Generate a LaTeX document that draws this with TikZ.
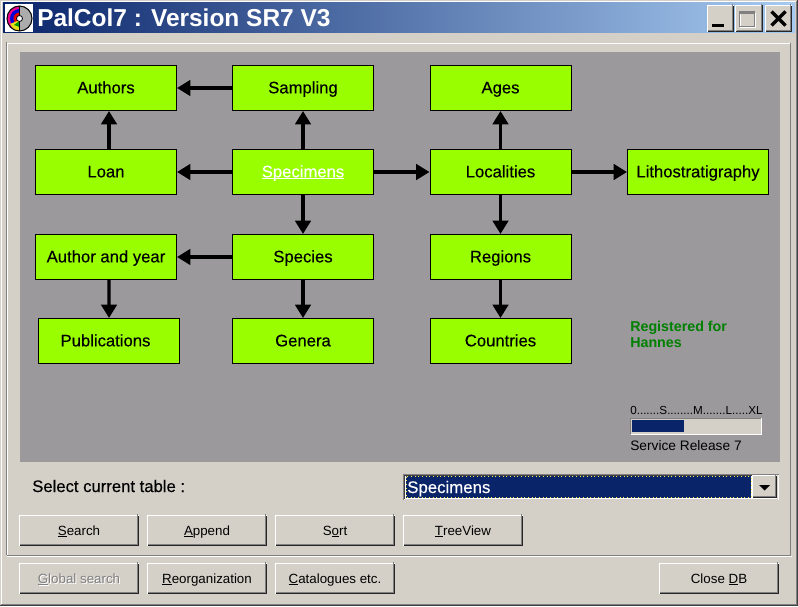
\documentclass[tikz,border=0pt]{standalone}
\usepackage{fontspec}
\setmainfont{Liberation Sans}
\newfontfamily\heavyface[FakeBold=0.3]{Liberation Sans}
\usetikzlibrary{arrows.meta}
\definecolor{winbg}{RGB}{212,208,200}
\definecolor{panelgray}{RGB}{155,153,156}
\definecolor{boxgreen}{RGB}{153,255,0}
\definecolor{navy}{RGB}{10,36,106}
\definecolor{sky}{RGB}{166,202,240}
\definecolor{edgegray}{RGB}{128,128,128}
\definecolor{edgedark}{RGB}{64,64,64}
\definecolor{reggreen}{RGB}{0,128,0}
\newcommand{\nodefont}{\heavyface\fontsize{12.5pt}{14pt}\selectfont}
\newcommand{\btnfont}{\fontsize{10pt}{12pt}\selectfont}
\newcommand{\ulx}[1]{\setbox0\hbox{#1}\rlap{\rule[-1.4pt]{\wd0}{0.75pt}}\box0}
\tikzset{
  tbl/.style={draw=black,line width=0.75pt,fill=boxgreen,inner sep=0pt,minimum width=105.75pt,minimum height=33.75pt,text height=10pt,text depth=2pt,font=\nodefont,text=black},
  arr/.style={draw=black,line width=2.5pt,-{Triangle[length=10pt,width=11.5pt]}},
  btn/.style={fill=winbg,inner sep=0pt,minimum width=89.25pt,minimum height=22.5pt,text height=9pt,text depth=2.2pt,font=\btnfont,text=black},
  capbtn/.style={fill=winbg,inner sep=0pt,minimum width=19.5pt,minimum height=19.5pt},
  lbl/.style={inner sep=0pt,anchor=base west,text=black},
  hi/.style={draw=white,line width=0.75pt},
  lo/.style={draw=black!85,line width=0.75pt},
  lo2/.style={draw=edgegray,line width=0.75pt}
}
\newcommand{\bevel}[1]{%
  \draw[lo] (#1.south west) -- (#1.south east) -- (#1.north east);
  \draw[hi] (#1.south west) -- (#1.north west) -- (#1.north east);
  \draw[lo2] ([shift={(-0.75pt,0.75pt)}]#1.north east) -- ([shift={(-0.75pt,0.75pt)}]#1.south east) -- ([shift={(0.75pt,0.75pt)}]#1.south west);
}
\begin{document}
\begin{tikzpicture}[x=0.75pt,y=-0.75pt]
\useasboundingbox (0,0) rectangle (798,606);
% window frame
\fill[winbg] (0,0) rectangle (798,606);
\draw[white,line width=0.75pt] (1.5,605) -- (1.5,1.5) -- (796,1.5);
\draw[edgedark,line width=0.75pt] (0,605.5) -- (797.5,605.5) -- (797.5,0);
\draw[edgegray,line width=0.75pt] (1,604.5) -- (796.5,604.5) -- (796.5,1);
% title bar
\shade[left color=navy,right color=sky] (3,3) rectangle (795,33);
% icon
\node[fill=white,inner sep=0pt,minimum width=21pt,minimum height=21pt] (icon) at (19,18) {};
\begin{scope}
\clip (6,5) rectangle (19.5,32);
\fill[magenta] (19.5,18.5) circle (12.5);
\fill[blue!85!black] (19.5,18.5) circle (9.5);
\fill[red!90!black] (19.5,18.5) circle (6);
\fill[yellow!90!black] (10,24) -- (19.5,20) -- (19.5,31) -- (14,30) -- cycle;
\fill[green!60!black] (14,25) -- (19.5,21) -- (19.5,27) -- cycle;
\end{scope}
\begin{scope}
\clip (19.5,5) rectangle (33,32);
\fill[gray!65] (19.5,18.5) circle (12.5);
\end{scope}
\draw[black,line width=0.75pt] (19.5,18.5) circle (12.5);
\draw[black,line width=0.75pt] (19.5,6) -- (19.5,31);
\fill[white,draw=black,line width=0.6pt] (19.5,18.5) circle (3);
\node[lbl,text=white,font=\fontsize{18.35pt}{22pt}\bfseries\selectfont] (title) at (37,27) {PalCol7 : Version SR7 V3};
% caption buttons
\node[capbtn] (minb) at (720.5,18.5) {};
\node[capbtn] (maxb) at (749,18.5) {};
\node[capbtn] (clsb) at (778.5,18.5) {};
\bevel{minb}\bevel{maxb}\bevel{clsb}
\fill[black] (712,24) rectangle (724,27);
\draw[white,line width=0.75pt] (740,14) rectangle (755.5,27.5);
\draw[edgegray,line width=2.25pt] (739,12.5) -- (755,12.5);
\draw[edgegray,line width=0.75pt] (739.5,11) -- (739.5,27) -- (755,27);
\draw[edgegray,line width=0.75pt] (754.5,11) -- (754.5,27);
\draw[black,line width=2.6pt] (771.5,11.5) -- (785.5,25.5) (785.5,11.5) -- (771.5,25.5);
% client groove
\draw[white,line width=0.75pt] (7.5,555) -- (7.5,43.5) -- (790,43.5);
\draw[edgegray,line width=0.75pt] (6.5,42.5) -- (6.5,555);
\draw[edgegray,line width=0.75pt] (790.5,43) -- (790.5,555);
\draw[edgegray,line width=0.75pt] (7,555.5) -- (791,555.5);
\draw[white,line width=0.75pt] (7,556.5) -- (792,556.5);
% gray panel
\fill[panelgray] (20,52) rectangle (780,462);
% table nodes
\node[tbl] (authors) at (106,88) {Authors};
\node[tbl] (sampling) at (303,88) {Sampling};
\node[tbl] (ages) at (500.5,88) {Ages};
\node[tbl] (loan) at (106,172) {Loan};
\node[tbl,text=white] (specimens) at (303,172) {\ulx{Specimens}};
\node[tbl] (localities) at (500.5,172) {Localities};
\node[tbl] (litho) at (698,172) {Lithostratigraphy};
\node[tbl] (authyear) at (106,257) {Author and year};
\node[tbl] (species) at (303,257) {Species};
\node[tbl] (regions) at (500.5,257) {Regions};
\node[tbl] (publications) at (108.5,341) {\hspace*{-4.5pt}Publications};
\node[tbl] (genera) at (303,341) {Genera};
\node[tbl] (countries) at (500.5,341) {Countries};
% connectors
\draw[arr] (sampling.west) -- (authors.east);
\draw[arr] (specimens.north) -- (sampling.south);
\draw[arr] ([xshift=2.25pt]loan.north) -- ([xshift=2.25pt]authors.south);
\draw[arr] (specimens.west) -- (loan.east);
\draw[arr] (specimens.east) -- (localities.west);
\draw[arr] (localities.east) -- (litho.west);
\draw[arr] (localities.north) -- (ages.south);
\draw[arr] (localities.south) -- (regions.north);
\draw[arr] (specimens.south) -- (species.north);
\draw[arr] (species.west) -- (authyear.east);
\draw[arr] ([xshift=2.25pt]authyear.south) -- ([xshift=.4pt]publications.north);
\draw[arr] (species.south) -- (genera.north);
\draw[arr] (regions.south) -- (countries.north);
% registration
\node[lbl,text=reggreen,font=\fontsize{10.7pt}{12pt}\bfseries\selectfont] (reg1) at (630,331) {Registered for};
\node[lbl,text=reggreen,font=\fontsize{10.7pt}{12pt}\bfseries\selectfont] (reg2) at (630,347) {Hannes};
% size gauge
\node[lbl,font=\fontsize{8.75pt}{11pt}\selectfont] (scale) at (630,414) {0.......S........M.......L.....XL};
\fill[winbg] (631,418) rectangle (762,434);
\draw[edgegray,line width=0.75pt] (630.5,434) -- (630.5,418.5) -- (762,418.5);
\draw[white,line width=0.75pt] (630.5,434.5) -- (761.5,434.5) -- (761.5,418);
\fill[navy] (632,420) rectangle (684,432);
\node[lbl,font=\fontsize{10.3pt}{12pt}\selectfont] (release) at (630,450) {Service Release 7};
% select row
\node[lbl,font=\heavyface\fontsize{12.5pt}{14pt}\selectfont] (sel) at (32,492) {Select current table :};
\fill[white] (403,474) rectangle (779,500);
\draw[edgegray,line width=0.75pt] (403.5,500) -- (403.5,474.5) -- (779,474.5);
\draw[black!75,line width=0.75pt] (404.5,499) -- (404.5,475.5) -- (778,475.5);
\draw[winbg,line width=0.75pt] (404.5,499.5) -- (777.5,499.5) -- (777.5,475);
\fill[navy] (406,476) rectangle (751,498);
\draw[yellow!70,line width=0.75pt,dotted] (406,476.5) rectangle (751,497.5);
\node[lbl,text=white,font=\heavyface\fontsize{12.6pt}{14pt}\selectfont] (combo) at (407,493) {Specimens};
\node[capbtn,minimum width=18pt,minimum height=16.5pt] (drop) at (764.5,486.5) {};
\bevel{drop}
\fill[black] (759,485) -- (770,485) -- (764.5,490.5) -- cycle;
% buttons
\node[btn] (b1) at (79,530.5) {\ulx{S}earch};
\node[btn] (b2) at (207,530.5) {\ulx{A}ppend};
\node[btn] (b3) at (335,530.5) {S\ulx{o}rt};
\node[btn] (b4) at (463,530.5) {\ulx{T}reeView};
\node[btn] (b5) at (79,578.5) {};
\node[btn] (b6) at (207,578.5) {\ulx{R}eorganization};
\node[btn] (b7) at (335,578.5) {\ulx{C}atalogues etc.};
\node[btn] (b8) at (719,578.5) {Close \ulx{D}B};
\bevel{b1}\bevel{b2}\bevel{b3}\bevel{b4}\bevel{b5}\bevel{b6}\bevel{b7}\bevel{b8}
\node[font=\btnfont,text=white,text height=9pt,text depth=2.2pt,inner sep=0pt] (gs2) at (80,579.5) {\ulx{G}lobal search};
\node[font=\btnfont,text=edgegray,text height=9pt,text depth=2.2pt,inner sep=0pt] (gs) at (79,578.5) {\ulx{G}lobal search};
\end{tikzpicture}
\end{document}
